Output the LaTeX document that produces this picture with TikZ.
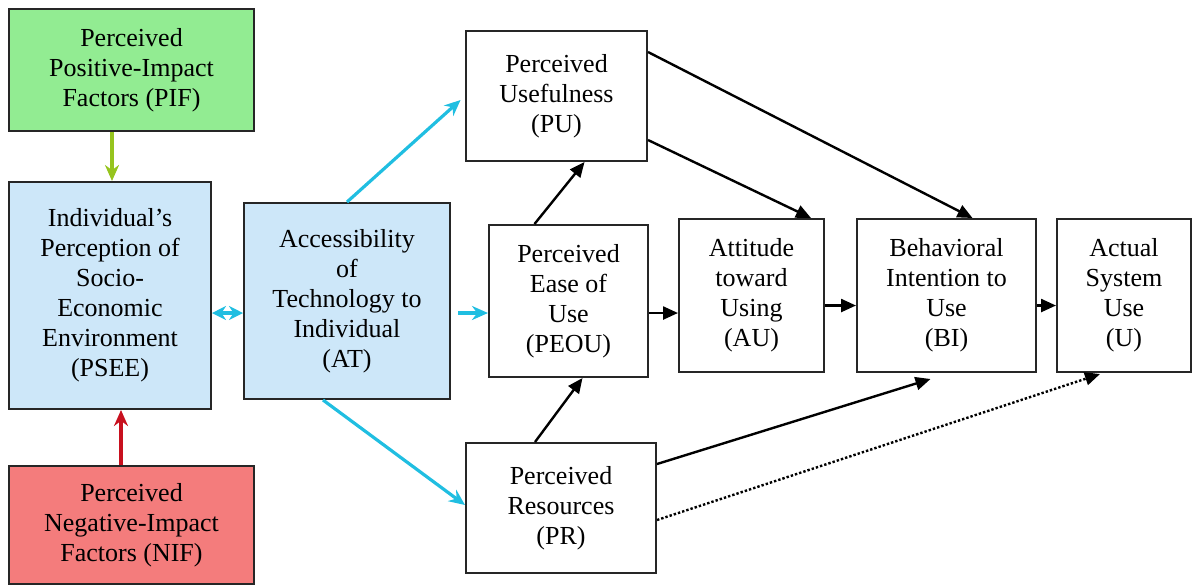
\documentclass[tikz,border=0pt]{standalone}
\usepackage{fontspec}
\setmainfont{Liberation Serif}
\usetikzlibrary{arrows.meta}
\definecolor{pifgreen}{RGB}{146,236,146}
\definecolor{pseeblue}{RGB}{205,231,249}
\definecolor{nifred}{RGB}{244,124,124}
\definecolor{acccyan}{RGB}{32,190,225}
\definecolor{pifarrow}{RGB}{150,196,30}
\definecolor{nifarrow}{RGB}{200,16,30}
\tikzset{
  model node/.style={
    draw=black!85,
    line width=1pt,
    fill=white,
    align=center,
    inner sep=0pt,
    font=\fontsize{13}{15}\selectfont,
  },
  link/.style={
    line width=1.2pt,
    -{Triangle[length=7.5pt,width=6.5pt]},
  },
  access link/.style={
    acccyan,
    line width=1.6pt,
    -{Stealth[length=8pt,width=7pt]},
  },
}

\begin{document}
\begin{tikzpicture}[x=0.5pt, y=-0.5pt]
        \useasboundingbox (0,0) rectangle (1193,586);

        \node[model node, fill=pifgreen, minimum width=122.5pt, minimum height=61pt]   (pif)  at (131.5,70)  {Perceived\\Positive-Impact\\Factors (PIF)};
        \node[model node, fill=pseeblue, minimum width=101pt, minimum height=113.5pt]  (psee) at (110,295.5) {Individual’s\\Perception of\\Socio-\\Economic\\Environment\\(PSEE)};
        \node[model node, fill=nifred  , minimum width=122.5pt, minimum height=59pt]   (nif)  at (131.5,525) {Perceived\\Negative-Impact\\Factors (NIF)};
        \node[model node, fill=pseeblue, minimum width=103pt, minimum height=98pt]     (acc)  at (347,301)   {Accessibility\\of\\Technology to\\Individual\\(AT)};
        \node[model node, minimum width=90.5pt, minimum height=65pt]                   (pu)   at (556.5,96)  {Perceived\\Usefulness\\(PU)};
        \node[model node, minimum width=79.5pt, minimum height=76pt]                   (peou) at (568.5,301) {Perceived\\Ease of\\Use\\(PEOU)};
        \node[model node, minimum width=95pt, minimum height=65pt]                     (pr)   at (561,508)   {Perceived\\Resources\\(PR)};
        \node[model node, minimum width=72.5pt, minimum height=76.5pt]                 (au)   at (751.5,295.5) {Attitude\\toward\\Using\\(AU)};
        \node[model node, minimum width=89.5pt, minimum height=76.5pt]                 (bi)   at (946.5,295.5) {Behavioral\\Intention to\\Use\\(BI)};
        \node[model node, minimum width=67pt, minimum height=76.5pt]                   (asu)  at (1124,295.5)  {Actual\\System\\Use\\(U)};

        \draw[link, pifarrow, line width=1.8pt, -{Stealth[length=8pt,width=7pt]}] ([xshift=1pt]psee.north |- pif.south) to ([xshift=1pt]psee.north);
        \draw[link, nifarrow, line width=1.8pt, -{Stealth[length=8pt,width=7pt]}] ([xshift=5.5pt]nif.north -| psee.south) to ([xshift=5.5pt]psee.south);

        \draw[access link, {Stealth[length=7pt,width=7pt]}-{Stealth[length=7pt,width=7pt]}] ([yshift=-6pt]acc.west -| psee.east) to ([yshift=-6pt]acc.west);
        \draw[access link, shorten <=3.5pt] ([yshift=-6pt]acc.east) to ([yshift=-6pt]peou.west);
        \draw[access link, shorten >=3pt]   (acc.north) to (pu.west);
        \draw[access link]                  ([xshift=-12pt]acc.south) to ([yshift=1.5pt]pr.west);

        \draw[link] ([xshift=-17pt]peou.north) to ([xshift=14pt]pu.south);
        \draw[link] ([xshift=-13pt]pr.north)   to ([xshift=7pt]peou.south);
        \draw[link] ([yshift=-22pt]pu.east)    to ([xshift=-7pt]au.north east);
        \draw[link] ([yshift=22pt]pu.east)     to ([xshift=13pt]bi.north);

        \draw[link] ([yshift=-6pt]peou.east)   to ([yshift=-6pt]peou.east -| au.west);
        \draw[link] ([yshift=-5pt]au.east)     to ([yshift=-5pt]bi.west);
        \draw[link] ([yshift=-5pt]bi.east)     to ([yshift=-5pt]asu.west);

        \draw[link]               ([yshift=22pt]pr.east) to ([xshift=-8pt,yshift=-3pt]bi.south);
        \draw[link, densely dotted] ([yshift=-6pt]pr.east) to ([xshift=-12pt,yshift=-0.5pt]asu.south);
      \end{tikzpicture}
\end{document}
